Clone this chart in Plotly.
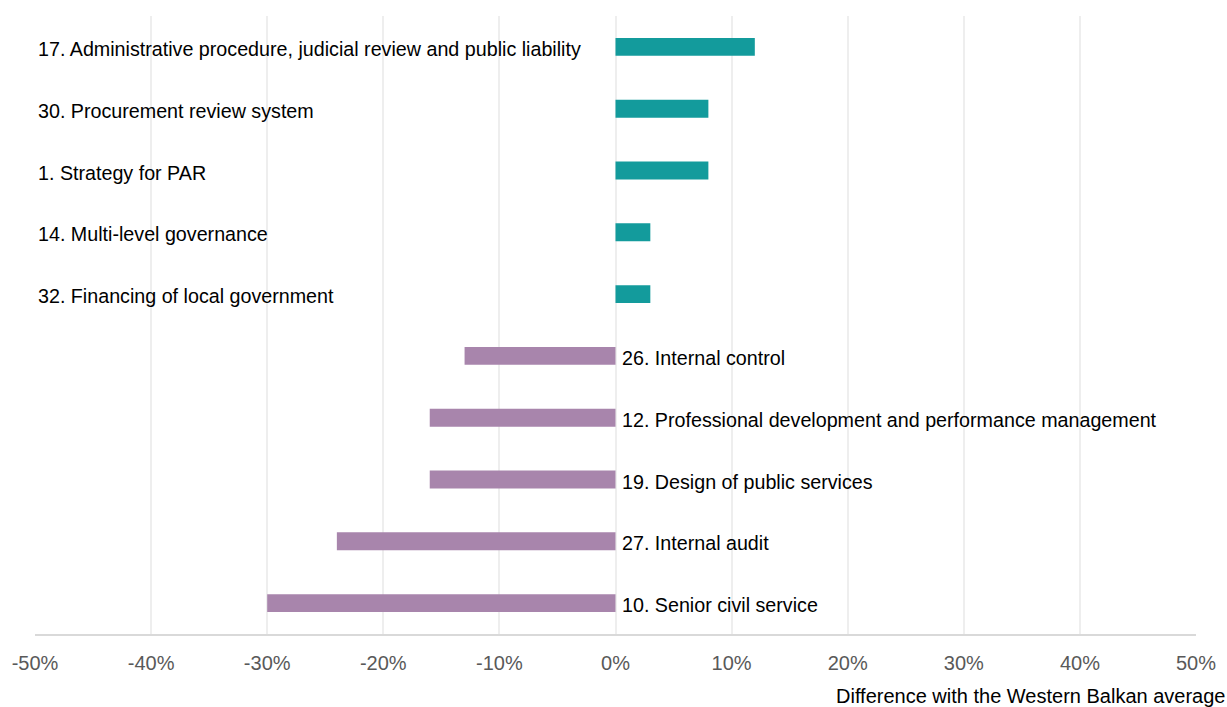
import plotly.graph_objects as go

# PAR principles and their gap to the Western Balkan average (percentage points)
categories = [
    "17. Administrative procedure, judicial review and public liability",
    "30. Procurement review system",
    "1. Strategy for PAR",
    "14. Multi-level governance",
    "32. Financing of local government",
    "26. Internal control",
    "12. Professional development and performance management",
    "19. Design of public services",
    "27. Internal audit",
    "10. Senior civil service",
]
values = [12, 8, 8, 3, 3, -13, -16, -16, -24, -30]
tick_vals = [-50, -40, -30, -20, -10, 0, 10, 20, 30, 40, 50]
tick_text = ["-50%", "-40%", "-30%", "-20%", "-10%", "0%", "10%", "20%", "30%", "40%", "50%"]
axis_title = "Difference with the Western Balkan average"

POS_COLOR = "#139B9C"
NEG_COLOR = "#A885AC"
FONT = "Liberation Sans Narrow, Arial Narrow, Liberation Sans, Arial, sans-serif"
LABEL_SIZE = 19.7

colors = [POS_COLOR if v >= 0 else NEG_COLOR for v in values]

fig = go.Figure(
    go.Bar(
        x=values,
        y=categories,
        orientation="h",
        marker=dict(color=colors, line=dict(width=0)),
        hoverinfo="skip",
    )
)

# Category labels: left edge for gains, just right of zero for shortfalls
annotations = []
for cat, v in zip(categories, values):
    if v >= 0:
        annotations.append(dict(x=-50, y=cat, xref="x", yref="y", text=cat,
                                showarrow=False, xanchor="left", xshift=1, yshift=-2,
                                font=dict(family=FONT, size=LABEL_SIZE, color="#000000")))
    else:
        annotations.append(dict(x=0, y=cat, xref="x", yref="y", text=cat,
                                showarrow=False, xanchor="left", xshift=4, yshift=-2,
                                font=dict(family=FONT, size=LABEL_SIZE, color="#000000")))

annotations.append(dict(x=1.0265, y=0, xref="paper", yref="paper", yshift=-62,
                        text=axis_title, showarrow=False, xanchor="right", yanchor="middle",
                        font=dict(family=FONT, size=20, color="#000000")))

fig.update_layout(
    width=1227,
    height=707,
    margin=dict(l=35, r=31, t=16, b=73),
    paper_bgcolor="white",
    plot_bgcolor="white",
    showlegend=False,
    bargap=0.71,
    annotations=annotations,
    xaxis=dict(
        range=[-50, 50],
        tickvals=tick_vals,
        ticktext=tick_text,
        showgrid=True,
        gridcolor="#EEEEEE",
        gridwidth=1.5,
        zeroline=False,
        showline=True,
        linecolor="#D9D9D9",
        linewidth=1.5,
        ticks="",
        tickfont=dict(family=FONT, size=20, color="#595959"),
        ticklabelstandoff=10,
        automargin=False,
    ),
    yaxis=dict(
        autorange="reversed",
        showticklabels=False,
        showgrid=False,
        zeroline=False,
        showline=False,
        ticks="",
        automargin=False,
    ),
)

fig.write_html("out.html")
